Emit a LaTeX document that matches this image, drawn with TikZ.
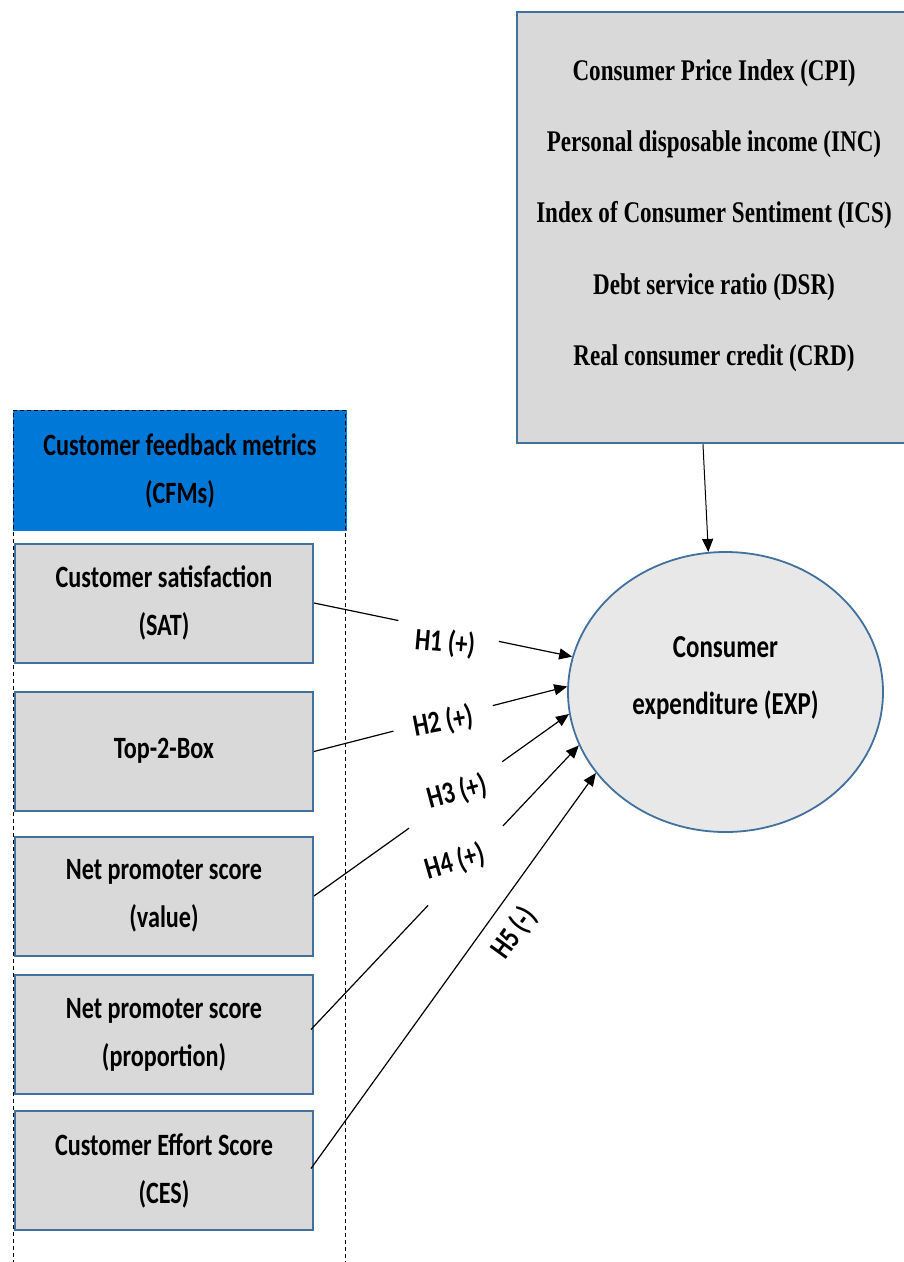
\documentclass[tikz,border=0pt]{standalone}
\usepackage{fontspec}
\usetikzlibrary{shapes.geometric,arrows.meta,calc}
\newfontfamily\calb[FakeStretch=0.78]{Carlito}
\newfontfamily\tnr[FakeStretch=0.77]{Liberation Serif}
\definecolor{boxblue}{RGB}{65,113,156}
\definecolor{boxgray}{RGB}{217,217,217}
\definecolor{hdrblue}{RGB}{0,120,215}
\definecolor{ellgray}{RGB}{232,232,232}
\begin{document}
\begin{tikzpicture}[x=1pt,y=-1pt,
  cfmbox/.style={draw=boxblue,line width=2pt,fill=boxgray,minimum width=298pt,minimum height=119pt,inner sep=0pt,align=center,font=\calb\bfseries\fontsize{31}{48}\selectfont},
  hdr/.style={fill=hdrblue,minimum width=334pt,minimum height=121pt,inner sep=0pt,align=center,font=\calb\bfseries\fontsize{31}{48}\selectfont},
  container/.style={draw=black,line width=1pt,dash pattern=on 4pt off 3pt,minimum width=332pt,minimum height=880pt,inner sep=0pt},
  macrobox/.style={draw=boxblue,line width=2.5pt,fill=boxgray,minimum width=390pt,minimum height=431pt,inner sep=0pt},
  macrotext/.style={align=center,font=\tnr\bfseries\fontsize{30}{71.3}\selectfont},
  expell/.style={ellipse,draw=boxblue,line width=1.8pt,fill=ellgray,minimum width=315pt,minimum height=280pt,inner sep=0pt},
  exptext/.style={align=center,font=\calb\bfseries\fontsize{32}{57}\selectfont},
  hlabel/.style={font=\calb\bfseries\fontsize{31}{36}\selectfont,inner sep=0pt},
  conn/.style={line width=1.2pt,draw=black},
  tip/.style={-{Triangle[length=13pt,width=11pt]}}
]
\useasboundingbox (0,0) rectangle (904,1262);
\clip (0,0) rectangle (904,1262);

% macro-economic box
\node[macrobox] (macro) at (712,227.5) {};
\node[macrotext] (macrotxt) at (714,215.5) {Consumer Price Index (CPI)\\Personal disposable income (INC)\\Index of Consumer Sentiment (ICS)\\Debt service ratio (DSR)\\Real consumer credit (CRD)};

% CFM column
\node[hdr] (hdr) at (180,470.5) {Customer feedback metrics\\(CFMs)};
\node[container] (cont) at (179,850) {};
\node[cfmbox] (sat) at (164,603) {Customer satisfaction\\(SAT)};
\node[cfmbox,text depth=6pt] (t2b) at (164,751.5) {Top-2-Box};
\node[cfmbox] (npsv) at (164,896) {Net promoter score\\(value)};
\node[cfmbox] (npsp) at (164,1034.5) {Net promoter score\\(proportion)};
\node[cfmbox] (ces) at (164,1170.5) {Customer Effort Score\\(CES)};

% consumer expenditure
\node[expell] (exp) at (725.5,692) {};
\node[exptext] (exptxt) at (725.5,678.5) {Consumer\\expenditure (EXP)};

% macro arrow
\coordinate (mtop) at ($(macro.south west)!0.477!(macro.south east)$);
\draw[line width=1pt,tip] (mtop) -- (exp.97);

% H1
\coordinate (h1a) at ($(sat.east)!0.327!(exp.167)$);
\coordinate (h1b) at ($(sat.east)!0.716!(exp.167)$);
\draw[conn] (sat.east) -- (h1a);
\draw[conn,tip] (h1b) -- (exp.167);
\node[hlabel,rotate=-5] (l1) at (445,643) {H1 (+)};

% H2
\coordinate (h2a) at ($(t2b.east)!0.314!(exp.178)$);
\coordinate (h2b) at ($(t2b.east)!0.706!(exp.178)$);
\draw[conn] (t2b.east) -- (h2a);
\draw[conn,tip] (h2b) -- (exp.178);
\node[hlabel,rotate=11] (l2) at (443,722) {H2 (+)};

% H3
\coordinate (h3a) at ($(npsv.east)!0.373!(exp.188)$);
\coordinate (h3b) at ($(npsv.east)!0.738!(exp.188)$);
\draw[conn] (npsv.east) -- (h3a);
\draw[conn,tip] (h3b) -- (exp.188);
\node[hlabel,rotate=15] (l3) at (457,792) {H3 (+)};

% H4
\coordinate (h4s) at ($(npsp.east)+(-3,-5)$);
\coordinate (h4a) at ($(h4s)!0.437!(exp.200)$);
\coordinate (h4b) at ($(h4s)!0.716!(exp.200)$);
\draw[conn] (h4s) -- (h4a);
\draw[conn,tip] (h4b) -- (exp.200);
\node[hlabel,rotate=16] (l4) at (455,862) {H4 (+)};

% H5
\coordinate (h5s) at ($(ces.east)+(-3,-2)$);
\draw[conn,tip] (h5s) -- (exp.212);
\node[hlabel,rotate=54] (l5) at (514,933) {H5 (-)};
\end{tikzpicture}
\end{document}
